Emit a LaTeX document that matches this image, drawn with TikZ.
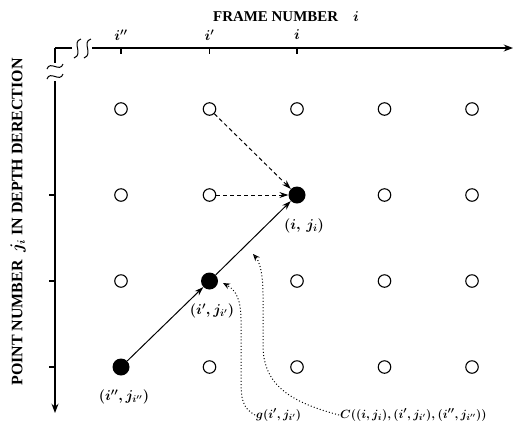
\documentclass[tikz,border=0pt]{standalone}
\usepackage{amsmath}
\usepackage{bm}
\usepackage{fontspec}
\setmainfont{Liberation Serif}
\usetikzlibrary{arrows.meta, positioning}

\begin{document}
\begin{tikzpicture}[
		x=1bp, y=-1bp,
		>=Stealth,
		font=\bfseries\fontsize{15}{17}\selectfont,
		% grid point styles
		open/.style={draw, circle, line width=1.1pt, inner sep=0pt, minimum size=12.5bp},
		dot/.style={fill, circle, inner sep=0pt, minimum size=17bp},
		axis/.style={line width=1.4pt},
		brk/.style={line width=1pt},
		tick/.style={line width=1.4pt},
		lbl/.style={inner sep=1pt, font=\boldmath\fontsize{14}{16}\selectfont},
		small lbl/.style={inner sep=1pt, font=\boldmath\fontsize{12.5}{15}\selectfont},
		arrow/.style={->, line width=1pt, >={Stealth[length=9pt, width=6pt]}},
		dasharrow/.style={arrow, dashed, dash pattern=on 4pt off 3pt},
		dotarrow/.style={-{Stealth[open, length=7pt, width=6pt]}, line width=1pt,
			dash pattern=on 1pt off 2.2pt}
	]
	\useasboundingbox (0,0) rectangle (516,425);

	% Axes
	\coordinate (origin) at (55,48);
	\coordinate (xend) at (513,48);
	\coordinate (yend) at (55,413);
	\draw[axis] (origin) -- (72,48);
	\draw[axis, ->] (92,48) -- (xend);
	\draw[axis] (origin) -- (55,63);
	\draw[axis, ->] (55,81) -- (yend);

	% axis breaks
	\draw[brk] (81,39) .. controls (71,42) and (84,54) .. (74,58);
	\draw[brk] (91,39) .. controls (81,42) and (94,54) .. (84,58);
	\draw[brk] (47,69) .. controls (50,60) and (60,73) .. (63,64);
	\draw[brk] (47,79) .. controls (50,70) and (60,83) .. (63,74);

	% Axis titles
	\node (xtitle) at (286,17) {FRAME NUMBER\quad$\bm{i}$};
	\node[rotate=90, font=\bfseries\fontsize{16}{18}\selectfont] (ytitle) at (18,222)
		{POINT NUMBER\enspace$\bm{j_i}$ IN DEPTH DERECTION};

	% Ticks and tick labels
	\foreach \x/\name/\txt in {121/tpp/{i''}, 209.5/tp/{i'}, 297/ti/{i}} {
		\draw[tick] (\x,48) -- (\x,54);
		\node[lbl] (\name) at (\x,35) {$\txt$};
	}
	\foreach \y in {195, 281, 367}
		\draw[tick] (55,\y) -- (49,\y);

	% Grid of points
	\foreach \c/\x in {1/121, 2/209.5, 3/297, 4/384.5, 5/472}
		\foreach \r/\y in {1/109, 2/195, 3/281, 4/367}
			\node[open] (p\c\r) at (\x,\y) {};

	% Points on the path
	\node[dot] (ipp) at (p14) {};
	\node[dot] (ip) at (p23) {};
	\node[dot] (ii) at (p32) {};

	\node[lbl] (ipp-l) at (124,397) {$(i'',j_{i''})$};
	\node[lbl] (ip-l) at (212,311) {$(i',j_{i'})$};
	\node[lbl] (ii-l) at (304,226) {$(i,\,j_i)$};

	% Arrows
	\draw[dasharrow] (p21) -- (ii);
	\draw[dasharrow] (p22) -- (ii);
	\draw[arrow] (ipp) -- (ip);
	\draw[arrow] (ip) -- (ii);

	% Bottom labels and dotted pointers
	\node[small lbl, anchor=west] (g) at (255,415) {$g(i',j_{i'})$};
	\node[small lbl, anchor=west] (cost) at (339,415) {$C((i,j_i),(i',j_{i'}),(i'',j_{i''}))$};
	\coordinate (cpath) at (253,254);

	\draw[dotarrow] (g.west) .. controls (242,408) and (241,398) .. (241,380)
		-- (241,320) .. controls (241,300) and (236,290) .. (223,283);
	\draw[dotarrow] (cost.west) .. controls (290,402) and (263,385) .. (263,345)
		-- (263,295) .. controls (263,275) and (260,262) .. (cpath);

\end{tikzpicture}
\end{document}
